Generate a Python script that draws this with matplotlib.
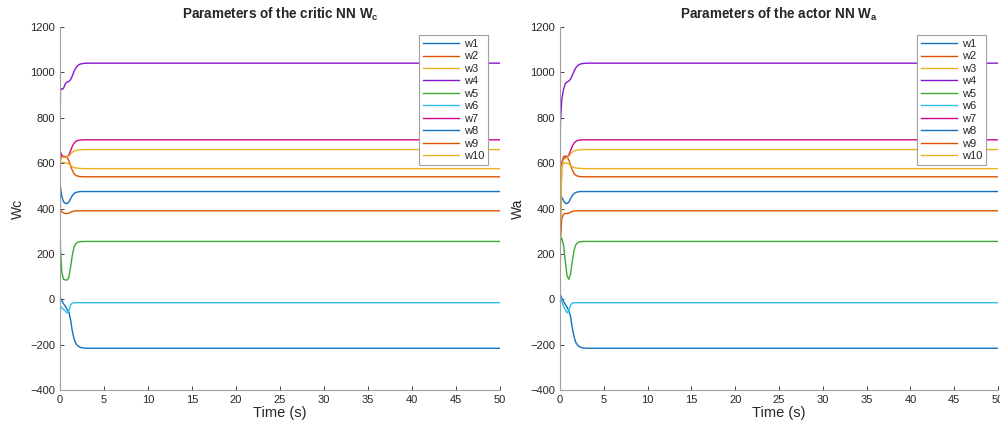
import matplotlib
matplotlib.use('Agg')
import matplotlib.pyplot as plt

# time samples (s)
t = [0, 0.05, 0.2, 0.4, 0.6, 0.8, 1.0, 1.2, 1.4, 1.6, 1.8, 2.0, 2.3, 2.7, 3.2, 4.0, 50]

# critic NN weights
wc1 = [15, 5, -5, -20, -30, -45, -55, -90, -140, -175, -195, -205, -212, -215, -216, -216, -216]
wc2 = [600, 615, 628, 630, 630, 625, 612, 590, 568, 553, 546, 543, 541, 540, 540, 540, 540]
wc3 = [600, 602, 603, 603, 602, 600, 596, 590, 585, 581, 579, 578, 577, 576, 576, 576, 576]
wc4 = [640, 930, 925, 930, 950, 958, 960, 968, 985, 1005, 1020, 1030, 1037, 1040, 1041, 1041, 1041]
wc5 = [330, 230, 120, 88, 85, 85, 95, 140, 195, 230, 245, 251, 254, 255, 255, 255, 255]
wc6 = [-260, -30, -38, -45, -52, -60, -50, -25, -17, -16, -15, -15, -15, -15, -15, -15, -15]
wc7 = [660, 650, 635, 628, 626, 627, 635, 655, 675, 688, 696, 700, 702, 703, 703, 703, 703]
wc8 = [510, 495, 455, 430, 423, 422, 428, 443, 457, 466, 471, 473, 475, 475, 475, 475, 475]
wc9 = [640, 392, 386, 381, 378, 378, 380, 384, 387, 389, 390, 390, 390, 390, 390, 390, 390]
wc10 = [600, 615, 625, 627, 627, 627, 630, 640, 648, 653, 656, 658, 659, 660, 660, 660, 660]

# actor NN weights
wa1 = [40, 20, 5, -10, -22, -35, -50, -75, -125, -165, -190, -202, -211, -215, -216, -216, -216]
wa2 = [50, 350, 600, 628, 632, 628, 615, 592, 570, 555, 547, 543, 541, 540, 540, 540, 540]
wa3 = [30, 300, 585, 600, 602, 600, 596, 590, 585, 581, 579, 578, 577, 576, 576, 576, 576]
wa4 = [520, 780, 880, 925, 950, 958, 962, 970, 987, 1005, 1020, 1030, 1037, 1040, 1041, 1041, 1041]
wa5 = [230, 260, 270, 240, 170, 105, 88, 110, 165, 215, 240, 249, 254, 255, 255, 255, 255]
wa6 = [20, 10, -10, -30, -45, -60, -50, -25, -17, -16, -15, -15, -15, -15, -15, -15, -15]
wa7 = [450, 540, 600, 620, 625, 627, 635, 655, 675, 688, 696, 700, 702, 703, 703, 703, 703]
wa8 = [400, 450, 450, 435, 424, 422, 428, 443, 457, 466, 471, 473, 475, 475, 475, 475, 475]
wa9 = [100, 260, 355, 375, 378, 378, 380, 384, 387, 389, 390, 390, 390, 390, 390, 390, 390]
wa10 = [30, 320, 590, 615, 622, 625, 630, 640, 648, 653, 656, 658, 659, 660, 660, 660, 660]

labels = ['w1', 'w2', 'w3', 'w4', 'w5', 'w6', 'w7', 'w8', 'w9', 'w10']
colors = ['#1171BE', '#DD5400', '#EDB120', '#8516D1', '#3BAA32', '#2FBEEF', '#D1048B']

plt.rcParams['font.family'] = 'Liberation Sans'
plt.rcParams['mathtext.fontset'] = 'custom'
plt.rcParams['mathtext.rm'] = 'Liberation Sans'
plt.rcParams['mathtext.bf'] = 'Liberation Sans:bold'

fig = plt.figure(figsize=(10, 4.3), dpi=100)
ax1 = fig.add_axes([0.06, 0.093, 0.44, 0.844])
ax2 = fig.add_axes([0.56, 0.093, 0.438, 0.844])

panels = [
    (ax1, [wc1, wc2, wc3, wc4, wc5, wc6, wc7, wc8, wc9, wc10], 'Wc',
     r'Parameters of the critic NN $\mathbf{W}_{\mathbf{c}}$'),
    (ax2, [wa1, wa2, wa3, wa4, wa5, wa6, wa7, wa8, wa9, wa10], 'Wa',
     r'Parameters of the actor NN $\mathbf{W}_{\mathbf{a}}$'),
]

for ax, series, ylab, title in panels:
    for i, w in enumerate(series):
        ax.plot(t, w, color=colors[i % 7], linewidth=1.0, label=labels[i])
    ax.set_xlim(0, 50)
    ax.set_ylim(-400, 1200)
    ax.set_xticks(range(0, 51, 5))
    ax.set_yticks(range(-400, 1201, 200))
    ax.tick_params(direction='in', length=3, labelsize=8, colors='#262626', width=0.6)
    for s in ['top', 'right']:
        ax.spines[s].set_visible(False)
    for s in ['left', 'bottom']:
        ax.spines[s].set_color('#a0a0a0')
        ax.spines[s].set_linewidth(0.8)
    ax.set_xlabel('Time (s)', fontsize=10.5, color='#262626', labelpad=1)
    ax.set_ylabel(ylab, fontsize=10, color='#262626', labelpad=4)
    ax.set_title(title, fontsize=9.75, fontweight='bold', color='#262626', pad=6)
    leg = ax.legend(loc='upper right', bbox_to_anchor=(0.973, 0.978), borderaxespad=0,
                    fontsize=8, handlelength=3.3, labelspacing=0.22, handletextpad=0.4,
                    borderpad=0.35, fancybox=False, framealpha=1, edgecolor='#a0a0a0')
    leg.get_frame().set_linewidth(0.8)
    for txt in leg.get_texts():
        txt.set_color('#262626')

fig.savefig('out.png', dpi=100, facecolor='white')
